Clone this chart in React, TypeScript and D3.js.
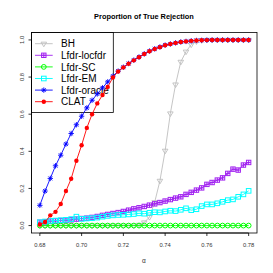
import React from "react";
import * as d3 from "d3";

const alpha = [
  0.68, 0.6825, 0.685, 0.6875, 0.69, 0.6925, 0.695, 0.6975, 0.7, 0.7025,
  0.705, 0.7075, 0.71, 0.7125, 0.715, 0.7175, 0.72, 0.7225, 0.725, 0.7275,
  0.73, 0.7325, 0.735, 0.7375, 0.74, 0.7425, 0.745, 0.7475, 0.75, 0.7525,
  0.755, 0.7575, 0.76, 0.7625, 0.765, 0.7675, 0.77, 0.7725, 0.775, 0.7775, 0.78,
];

const bh = [
  0, 0, 0, 0, 0, 0, 0, 0, 0, 0,
  0, 0, 0, 0, 0, 0, 0, 0, 0, 0.004,
  0.017, 0.046, 0.126, 0.241, 0.403, 0.604, 0.76, 0.882, 0.937, 0.975,
  0.992, 0.998, 1, 1, 1, 1, 1, 1, 1, 1, 1,
];

const lfdrLocfdr = [
  0.018, 0.02, 0.024, 0.025, 0.027, 0.029, 0.031, 0.035, 0.038, 0.04,
  0.044, 0.049, 0.055, 0.06, 0.065, 0.07, 0.076, 0.083, 0.09, 0.096,
  0.103, 0.11, 0.117, 0.124, 0.132, 0.14, 0.148, 0.155, 0.168, 0.179,
  0.191, 0.203, 0.222, 0.232, 0.245, 0.257, 0.281, 0.304, 0.299, 0.326, 0.34,
];

const lfdrSC = [
  0, 0, 0, 0, 0, 0, 0, 0, 0, 0,
  0, 0, 0, 0, 0, 0, 0, 0, 0, 0,
  0, 0, 0, 0, 0, 0, 0, 0, 0, 0,
  0, 0, 0, 0, 0, 0, 0, 0, 0, 0, 0,
];

const lfdrEM = [
  0.018, 0.022, 0.025, 0.027, 0.029, 0.031, 0.035, 0.048, 0.036, 0.038,
  0.04, 0.043, 0.048, 0.052, 0.055, 0.057, 0.058, 0.06, 0.062, 0.066,
  0.064, 0.069, 0.072, 0.071, 0.076, 0.08, 0.078, 0.085, 0.093, 0.083,
  0.088, 0.105, 0.114, 0.114, 0.12, 0.128, 0.137, 0.141, 0.155, 0.168, 0.187,
];

const lfdrOracle = [
  0.109, 0.186, 0.254, 0.322, 0.379, 0.439, 0.496, 0.543, 0.589, 0.634,
  0.675, 0.709, 0.742, 0.774, 0.805, 0.832, 0.853, 0.873, 0.891, 0.908,
  0.925, 0.94, 0.952, 0.962, 0.972, 0.978, 0.984, 0.989, 0.992, 0.995,
  0.997, 0.998, 0.999, 1, 1, 1, 1, 1, 1, 1, 1,
];

const clat = [
  0.006, 0.019, 0.055, 0.074, 0.116, 0.186, 0.252, 0.349, 0.433, 0.526,
  0.6, 0.658, 0.703, 0.747, 0.798, 0.83, 0.852, 0.872, 0.89, 0.907,
  0.924, 0.939, 0.951, 0.961, 0.971, 0.978, 0.984, 0.989, 0.992, 0.995,
  0.997, 0.998, 0.999, 1, 1, 1, 1, 1, 1, 1, 1,
];

const xTicks = [0.68, 0.7, 0.72, 0.74, 0.76, 0.78];
const yTicks = [0, 0.2, 0.4, 0.6, 0.8, 1.0];
const seriesNames = ["BH", "Lfdr-locfdr", "Lfdr-SC", "Lfdr-EM", "Lfdr-oracle", "CLAT"];
const seriesValues = [bh, lfdrLocfdr, lfdrSC, lfdrEM, lfdrOracle, clat];
const seriesColors = ["#bebebe", "#a020f0", "#00ff00", "#00ffff", "#0000ff", "#ff0000"];
const seriesMarkers = ["triDown", "squarePlus", "circle", "square", "asterisk", "dot"];

const W = 273;
const H = 273;
const plot = { left: 31.5, right: 257, top: 32.5, bottom: 233 };
const FONT = "'Liberation Sans', Arial, Helvetica, sans-serif";

function Marker({ type, x, y, color }: { type: string; x: number; y: number; color: string }) {
  switch (type) {
    case "triDown": {
      const r = 2.8;
      const pts = [
        [x - r, y - r * 0.55],
        [x + r, y - r * 0.55],
        [x, y + r * 1.1],
      ];
      return <polygon points={pts.map((p) => p.join(",")).join(" ")} fill="none" stroke={color} strokeWidth={0.9} />;
    }
    case "squarePlus": {
      const s = 2.2;
      return (
        <g stroke={color} strokeWidth={1} fill="none">
          <rect x={x - s} y={y - s} width={2 * s} height={2 * s} />
          <line x1={x - s} x2={x + s} y1={y} y2={y} />
          <line x1={x} x2={x} y1={y - s} y2={y + s} />
        </g>
      );
    }
    case "circle":
      return <circle cx={x} cy={y} r={2.4} fill="none" stroke={color} strokeWidth={1} />;
    case "square": {
      const s = 2.3;
      return <rect x={x - s} y={y - s} width={2 * s} height={2 * s} fill="none" stroke={color} strokeWidth={1} />;
    }
    case "asterisk": {
      const r = 2.7;
      const d = r * 0.72;
      return (
        <g stroke={color} strokeWidth={0.9}>
          <line x1={x - r} x2={x + r} y1={y} y2={y} />
          <line x1={x} x2={x} y1={y - r} y2={y + r} />
          <line x1={x - d} x2={x + d} y1={y - d} y2={y + d} />
          <line x1={x - d} x2={x + d} y1={y + d} y2={y - d} />
        </g>
      );
    }
    default:
      return <circle cx={x} cy={y} r={2.2} fill={color} stroke="none" />;
  }
}

export default function App() {
  const x = d3.scaleLinear().domain([0.676, 0.784]).range([plot.left, plot.right]);
  const y = d3.scaleLinear().domain([-0.04, 1.04]).range([plot.bottom, plot.top]);
  const line = d3
    .line<number>()
    .x((_, i) => x(alpha[i]))
    .y((d) => y(d));

  const legendRowY = (k: number) => 43.7 + k * 11.6;

  return (
    <div style={{ position: "fixed", left: 0, top: 0, width: W, height: H, background: "#fff" }}>
      <svg width={W} height={H} style={{ display: "block" }}>
        <rect width={W} height={H} fill="#fff" />
        <text x={144} y={18.8} textAnchor="middle" fontFamily={FONT} fontWeight="bold" fontSize={7.4}>
          Proportion of True Rejection
        </text>

        {/* legend */}
        <rect x={plot.left} y={plot.top} width={113.3 - plot.left} height={112.5 - plot.top} fill="none" stroke="#000" strokeWidth={0.8} />
        {seriesNames.map((name, k) => (
          <g key={name}>
            <line x1={35} x2={52.7} y1={legendRowY(k)} y2={legendRowY(k)} stroke={seriesColors[k]} strokeWidth={0.9} />
            <Marker type={seriesMarkers[k]} x={43.8} y={legendRowY(k)} color={seriesColors[k]} />
            <text x={61} y={legendRowY(k) + 3.6} fontFamily={FONT} fontSize={10} fill="#000">
              {name}
            </text>
          </g>
        ))}

        {/* series */}
        {seriesValues.map((vals, k) => (
          <g key={seriesNames[k]}>
            <path d={line(vals) || ""} fill="none" stroke={seriesColors[k]} strokeWidth={0.9} />
            {vals.map((v, i) => (
              <Marker key={i} type={seriesMarkers[k]} x={x(alpha[i])} y={y(v)} color={seriesColors[k]} />
            ))}
          </g>
        ))}

        {/* box */}
        <rect x={plot.left} y={plot.top} width={plot.right - plot.left} height={plot.bottom - plot.top} fill="none" stroke="#000" strokeWidth={0.8} />

        {/* x axis */}
        <line x1={x(xTicks[0])} x2={x(xTicks[xTicks.length - 1])} y1={plot.bottom} y2={plot.bottom} stroke="#000" strokeWidth={0.8} />
        {xTicks.map((t) => (
          <g key={t}>
            <line x1={x(t)} x2={x(t)} y1={plot.bottom} y2={plot.bottom + 3} stroke="#000" strokeWidth={0.8} />
            <text x={x(t)} y={247} textAnchor="middle" fontFamily={FONT} fontSize={5.8} fill="#333">
              {t.toFixed(2)}
            </text>
          </g>
        ))}
        <text x={144} y={262.5} textAnchor="middle" fontFamily={FONT} fontSize={6.5} fill="#333">
          α
        </text>

        {/* y axis */}
        <line x1={plot.left} x2={plot.left} y1={y(yTicks[0])} y2={y(yTicks[yTicks.length - 1])} stroke="#000" strokeWidth={0.8} />
        {yTicks.map((t) => (
          <g key={t}>
            <line x1={plot.left - 3} x2={plot.left} y1={y(t)} y2={y(t)} stroke="#000" strokeWidth={0.8} />
            <text
              transform={`translate(${23.6},${y(t)}) rotate(-90)`}
              textAnchor="middle"
              fontFamily={FONT}
              fontSize={5.8}
              fill="#333"
            >
              {t.toFixed(1)}
            </text>
          </g>
        ))}
      </svg>
    </div>
  );
}
